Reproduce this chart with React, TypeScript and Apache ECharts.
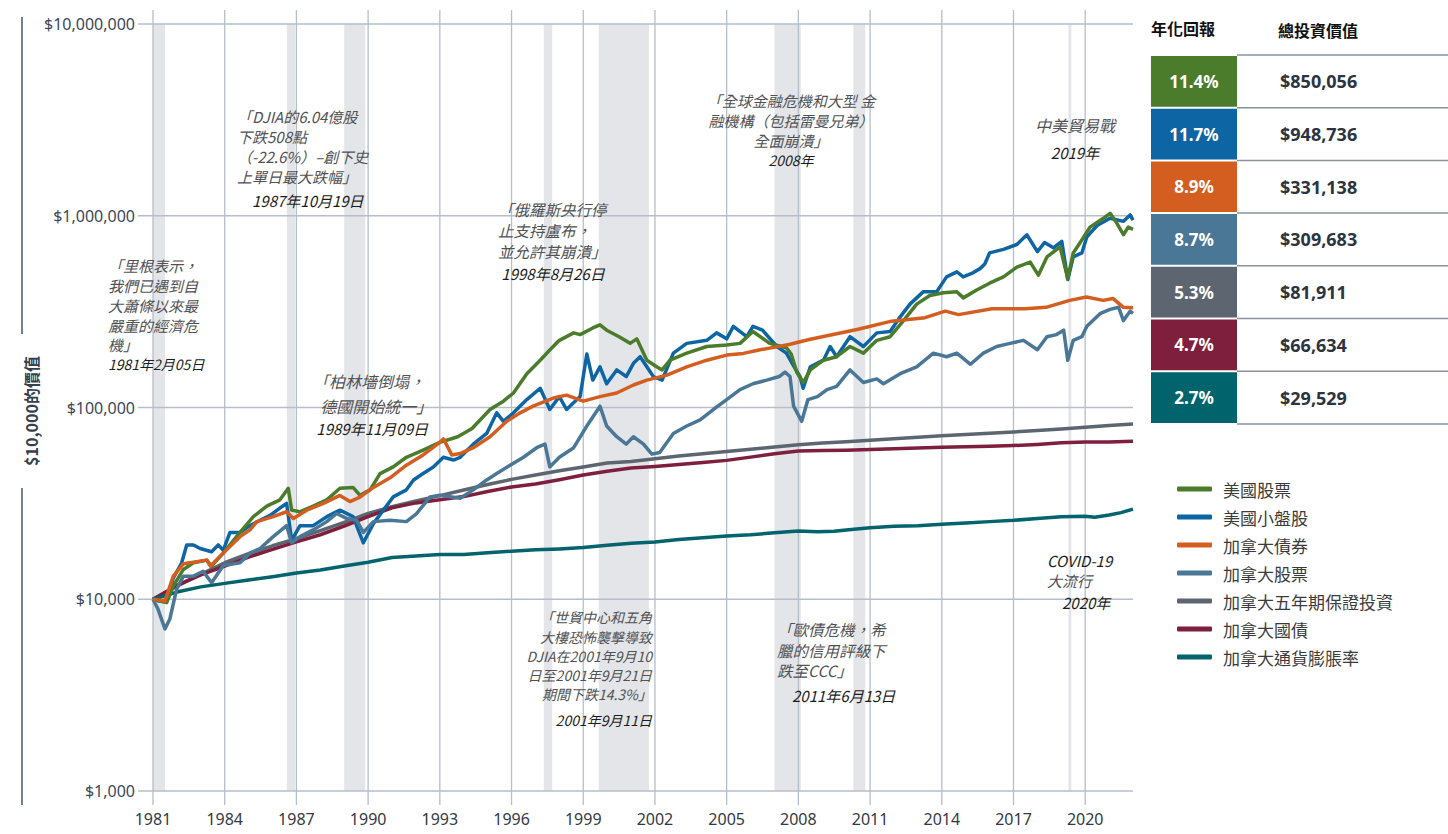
import React, { useEffect, useRef } from 'react';
import * as echarts from 'echarts';

// ---------- axis / layout data ----------
const AXIS_START = 1981;
const AXIS_END = 2022;
const xTickYears = [1981, 1984, 1987, 1990, 1993, 1996, 1999, 2002, 2005, 2008, 2011, 2014, 2017, 2020];
const yTickValues = [1000, 10000, 100000, 1000000, 10000000];
const recessionBands: [number, number][] = [
  [1981.0, 1981.5], [1986.6, 1986.95], [1989.0, 1989.88], [1997.35, 1997.7],
  [1999.65, 2001.75], [2007.0, 2008.1], [2010.3, 2010.8], [2019.3, 2019.42],
];

// ---------- series ----------
const seriesNames = ['美國股票', '美國小盤股', '加拿大債券', '加拿大股票', '加拿大五年期保證投資', '加拿大國債', '加拿大通貨膨脹率'];
const seriesColors = ['#4a7c2b', '#0e65a3', '#d35e1f', '#4b7797', '#5d6670', '#7e1f3d', '#01646d'];
const annualReturns = ['11.4%', '11.7%', '8.9%', '8.7%', '5.3%', '4.7%', '2.7%'];
const totalValues = ['$850,056', '$948,736', '$331,138', '$309,683', '$81,911', '$66,634', '$29,529'];

const usStocks: [number, number][] = [
  [1981.00, 10000], [1981.28, 9800], [1981.57, 9600], [1981.85, 11700], [1982.27, 14300], [1982.69, 15500],
  [1983.25, 16000], [1983.45, 14900], [1983.94, 17400], [1984.64, 22300], [1985.20, 26950], [1985.76, 30600],
  [1986.31, 33000], [1986.66, 37900], [1986.80, 29150], [1987.15, 28600], [1987.70, 30600], [1988.27, 33000],
  [1988.82, 37900], [1989.37, 38300], [1989.66, 34800], [1990.08, 37200], [1990.50, 45200], [1991.05, 49000],
  [1991.60, 55000], [1992.30, 60000], [1993.00, 65800], [1993.75, 70400], [1994.35, 77700], [1995.10, 97600],
  [1995.66, 107900], [1996.08, 119000], [1996.64, 150000], [1997.20, 176500], [1997.60, 199500], [1998.00, 224000],
  [1998.60, 245000], [1998.87, 240000], [1999.40, 260000], [1999.70, 270000], [1999.98, 253000], [2000.50, 234000],
  [2000.96, 216000], [2001.24, 228000], [2001.66, 176500], [2002.07, 163000], [2002.30, 157000], [2002.63, 176500],
  [2003.33, 192000], [2004.17, 208000], [2005.00, 212000], [2005.56, 216000], [2006.10, 249000], [2006.80, 216000],
  [2007.50, 205000], [2007.70, 190000], [2007.93, 153000], [2008.20, 135000], [2008.50, 157000], [2009.05, 176500],
  [2009.60, 184000], [2010.16, 208000], [2010.72, 192000], [2011.28, 224000], [2011.84, 234000], [2012.40, 284000],
  [2012.95, 346000], [2013.50, 384000], [2014.07, 397000], [2014.63, 402000], [2014.90, 373000], [2015.46, 410000],
  [2016.00, 445000], [2016.58, 480000], [2017.14, 540000], [2017.70, 573000], [2018.04, 490000], [2018.40, 610000],
  [2018.95, 688000], [2019.27, 470000], [2019.50, 640000], [2019.90, 761000], [2020.20, 872000], [2020.76, 970000],
  [2021.04, 1030000], [2021.32, 916000], [2021.60, 796000], [2021.80, 872000], [2022.00, 850056],
];

const usSmallCap: [number, number][] = [
  [1981.00, 10000], [1981.28, 9800], [1981.57, 9700], [1981.85, 12900], [1982.20, 15500], [1982.41, 19200],
  [1982.69, 19200], [1982.97, 18400], [1983.45, 17700], [1983.73, 19200], [1983.94, 18000], [1984.22, 22300],
  [1984.64, 22300], [1985.06, 24200], [1985.48, 25800], [1985.90, 27400], [1986.31, 29900], [1986.59, 31600],
  [1986.80, 20300], [1987.15, 24200], [1987.70, 24200], [1988.27, 26950], [1988.82, 29150], [1989.37, 26950],
  [1989.80, 19700], [1990.22, 24800], [1991.05, 34200], [1991.60, 37200], [1991.90, 41900], [1992.30, 45300],
  [1992.73, 49000], [1993.15, 55000], [1993.57, 53200], [1993.85, 55000], [1994.40, 64400], [1994.96, 73200],
  [1995.38, 93800], [1995.66, 84700], [1996.08, 93800], [1996.64, 110000], [1997.20, 126000], [1997.60, 97600],
  [1998.00, 114000], [1998.30, 97600], [1998.87, 114000], [1999.15, 190000], [1999.40, 139000], [1999.70, 163000],
  [1999.98, 133000], [2000.40, 157000], [2000.80, 145000], [2001.10, 170000], [2001.38, 184000], [2001.66, 163000],
  [2001.93, 145000], [2002.30, 139000], [2002.77, 192000], [2003.33, 216000], [2004.17, 224000], [2004.58, 245000],
  [2005.00, 228000], [2005.28, 265000], [2005.84, 234000], [2006.10, 265000], [2006.50, 253000], [2007.10, 208000],
  [2007.50, 192000], [2007.80, 165000], [2008.07, 145000], [2008.20, 126000], [2008.50, 163000], [2009.05, 176500],
  [2009.33, 208000], [2009.60, 184000], [2010.16, 234000], [2010.72, 208000], [2011.28, 245000], [2011.84, 249000],
  [2012.26, 297000], [2012.67, 346000], [2013.23, 402000], [2013.79, 402000], [2014.20, 480000], [2014.63, 510000],
  [2014.90, 480000], [2015.25, 500000], [2015.60, 530000], [2015.80, 560000], [2016.00, 640000], [2016.58, 668000],
  [2017.14, 708000], [2017.56, 796000], [2018.00, 650000], [2018.30, 725000], [2018.67, 680000], [2019.02, 735000],
  [2019.27, 465000], [2019.50, 610000], [2019.86, 640000], [2020.07, 777000], [2020.50, 890000], [2021.04, 970000],
  [2021.60, 935000], [2021.88, 1010000], [2022.00, 948736],
];

const canBonds: [number, number][] = [
  [1981.00, 10000], [1981.50, 9800], [1981.85, 13200], [1982.27, 15300], [1983.25, 16000], [1983.40, 14900],
  [1983.94, 17400], [1984.64, 21200], [1985.06, 23000], [1985.34, 25400], [1986.03, 26950], [1986.59, 28600],
  [1986.87, 26350], [1987.43, 29150], [1988.13, 31600], [1988.82, 34800], [1989.24, 32300], [1989.66, 34100],
  [1990.22, 38300], [1990.92, 43000], [1991.60, 50000], [1992.30, 56600], [1993.00, 65800], [1993.15, 68600],
  [1993.50, 56600], [1993.85, 57500], [1994.40, 61700], [1995.10, 70400], [1995.80, 84700], [1996.36, 93800],
  [1996.90, 101600], [1997.75, 112000], [1998.30, 116000], [1999.00, 107900], [1999.70, 114000], [2000.40, 119000],
  [2001.10, 131000], [2001.66, 139000], [2002.50, 147500], [2003.33, 163000], [2004.17, 176500], [2005.00, 187600],
  [2005.70, 191500], [2006.40, 200000], [2007.20, 208300], [2007.65, 213700], [2008.50, 227000], [2009.50, 241000],
  [2010.50, 256000], [2011.90, 282000], [2013.30, 294000], [2014.15, 318000], [2014.70, 305000], [2016.10, 327000],
  [2017.50, 327000], [2018.36, 333000], [2019.35, 362000], [2020.05, 377000], [2020.75, 362000], [2021.17, 370000],
  [2021.60, 333000], [2022.00, 331138],
];

const canStocks: [number, number][] = [
  [1981.00, 10000], [1981.20, 8940], [1981.50, 7000], [1981.70, 7860], [1981.99, 11300], [1982.27, 13200],
  [1982.69, 13200], [1983.10, 14000], [1983.45, 12200], [1983.94, 15000], [1984.64, 15500], [1985.06, 17400],
  [1985.48, 18400], [1986.03, 21200], [1986.59, 24200], [1986.80, 19700], [1987.15, 21200], [1987.70, 23000],
  [1988.27, 25400], [1988.68, 28000], [1989.10, 26400], [1989.52, 25800], [1989.80, 22300], [1990.22, 25400],
  [1990.92, 25800], [1991.60, 25400], [1992.03, 28000], [1992.59, 34200], [1993.00, 34900], [1993.43, 34200],
  [1993.85, 33600], [1994.40, 37200], [1994.96, 41900], [1995.38, 45300], [1995.94, 50000], [1996.50, 55000],
  [1997.05, 61700], [1997.40, 64400], [1997.60, 49000], [1998.00, 55000], [1998.60, 61700], [1999.15, 80100],
  [1999.70, 101600], [1999.98, 80100], [2000.40, 70400], [2000.80, 64400], [2001.10, 70400], [2001.52, 64400],
  [2001.87, 57100], [2002.20, 58300], [2002.77, 73200], [2003.33, 80100], [2003.89, 86200], [2004.44, 97600],
  [2005.00, 110000], [2005.56, 124000], [2006.10, 133000], [2006.68, 139000], [2007.20, 145000], [2007.44, 153000],
  [2007.65, 145000], [2007.80, 101600], [2008.14, 84700], [2008.40, 110000], [2008.80, 114000], [2009.20, 124000],
  [2009.60, 129000], [2010.16, 157000], [2010.72, 135000], [2011.28, 141000], [2011.56, 133000], [2012.26, 150000],
  [2012.95, 163000], [2013.65, 192000], [2014.20, 184000], [2014.63, 192000], [2015.20, 168000], [2015.74, 192000],
  [2016.30, 208000], [2016.86, 216000], [2017.42, 224000], [2018.00, 200000], [2018.40, 234000], [2018.80, 240000],
  [2019.10, 253000], [2019.27, 176500], [2019.50, 224000], [2019.86, 234000], [2020.07, 265000], [2020.64, 310000],
  [2021.04, 325000], [2021.40, 333000], [2021.60, 284000], [2021.88, 318000], [2022.00, 309683],
];

const canGic: [number, number][] = [
  [1981, 10000], [1982, 11700], [1983, 13500], [1984, 15500], [1985, 17300], [1986, 19000], [1987, 20700],
  [1988, 22800], [1989, 25200], [1990, 28000], [1991, 30400], [1992, 32600], [1993, 34700], [1994, 37100],
  [1995, 39700], [1996, 42200], [1997, 44500], [1998, 46800], [1999, 49000], [2000, 51300], [2001, 52300],
  [2002, 54000], [2003, 55800], [2004, 57400], [2005, 59000], [2006, 60500], [2007, 62200], [2008, 64000],
  [2009, 65200], [2010, 66300], [2011, 67500], [2012, 68800], [2013, 70000], [2014, 71200], [2015, 72300],
  [2016, 73400], [2017, 74500], [2018, 75800], [2019, 77300], [2020, 79000], [2021, 80500], [2022, 81911],
];

const canTbills: [number, number][] = [
  [1981, 10000], [1982, 11800], [1983, 13400], [1984, 14900], [1985, 16600], [1986, 18200], [1987, 19900],
  [1988, 21700], [1989, 24100], [1990, 27000], [1991, 30000], [1992, 31800], [1993, 33000], [1994, 34300],
  [1995, 36500], [1996, 38500], [1997, 39900], [1998, 42000], [1999, 44500], [2000, 46500], [2001, 48300],
  [2002, 49300], [2003, 50500], [2004, 51700], [2005, 53000], [2006, 55100], [2007, 57400], [2008, 59300],
  [2009, 59600], [2010, 59800], [2011, 60300], [2012, 60900], [2013, 61500], [2014, 62100], [2015, 62500],
  [2016, 62800], [2017, 63300], [2018, 64200], [2019, 65400], [2020, 66000], [2021, 66050], [2022, 66634],
];

const canInflation: [number, number][] = [
  [1981, 10000], [1982, 10900], [1983, 11600], [1984, 12100], [1985, 12600], [1986, 13100], [1987, 13700],
  [1988, 14200], [1989, 14900], [1990, 15600], [1991, 16500], [1992, 16800], [1993, 17100], [1994, 17100],
  [1995, 17500], [1996, 17800], [1997, 18100], [1998, 18300], [1999, 18600], [2000, 19100], [2001, 19600],
  [2002, 19900], [2003, 20500], [2004, 20900], [2005, 21400], [2006, 21700], [2007, 22200], [2008, 22700],
  [2008.8, 22500], [2009.5, 22600], [2010, 23000], [2011, 23600], [2012, 24000], [2013, 24200], [2014, 24600],
  [2015, 25000], [2016, 25400], [2017, 25800], [2018, 26400], [2019, 26900], [2020, 27100], [2020.4, 26800],
  [2021, 27500], [2021.5, 28300], [2022, 29529],
];

const seriesData = [usStocks, usSmallCap, canBonds, canStocks, canGic, canTbills, canInflation];
const seriesZ = [4, 3, 5, 3, 2, 2, 2];

// annotations: anchor x, first-line centre y, align, lines [text, kind (c = quote, d = date), fontSize, lineHeight]
type Line = [string, 'c' | 'd', number, number];
type Note = { x: number; y: number; align: string; lines: Line[] };
const notes: Note[] = [
  { x: 108, y: 265, align: 'left', lines: [
    ['「里根表示，', 'c', 15, 20], ['我們已遇到自', 'c', 15, 20], ['大蕭條以來最', 'c', 15, 20],
    ['嚴重的經濟危', 'c', 15, 20], ['機」', 'c', 15, 19], ['1981年2月05日', 'd', 14, 19]] },
  { x: 237, y: 116, align: 'left', lines: [
    ['「DJIA的6.04億股', 'c', 15, 20], ['下跌508點', 'c', 15, 20], ['（-22.6%）–創下史', 'c', 15, 20],
    ['上單日最大跌幅」', 'c', 15, 20], ['\u30001987年10月19日', 'd', 15, 28]] },
  { x: 313, y: 381, align: 'left', lines: [
    ['「柏林墻倒塌，', 'c', 16, 25], ['  德國開始統一」', 'c', 16, 25], [' 1989年11月09日', 'd', 15, 19]] },
  { x: 498, y: 209, align: 'left', lines: [
    ['「俄羅斯央行停', 'c', 15.5, 21], ['止支持盧布，', 'c', 15.5, 21], ['並允許其崩潰」', 'c', 15.5, 21],
    [' 1998年8月26日', 'd', 15, 23]] },
  { x: 791, y: 100, align: 'center', lines: [
    ['「全球金融危機和大型 金', 'c', 15, 20], ['融機構（包括雷曼兄弟）', 'c', 15, 20],
    ['全面崩潰」', 'c', 15, 20], ['2008年', 'd', 14, 19]] },
  { x: 1075, y: 125, align: 'center', lines: [['中美貿易戰', 'c', 16, 24], ['2019年', 'd', 15, 30]] },
  { x: 1047, y: 560, align: 'left', lines: [
    ['COVID-19', 'd', 15, 20], ['大流行', 'c', 15, 20], ['\u30002020年', 'd', 15, 24]] },
  { x: 652, y: 617, align: 'right', lines: [
    ['「世貿中心和五角', 'c', 14, 19.5], ['大樓恐怖襲擊導致', 'c', 14, 19.5], ['DJIA在2001年9月10', 'c', 14, 19.5],
    ['日至2001年9月21日', 'c', 14, 19], ['期間下跌14.3%」', 'c', 14, 19], ['2001年9月11日', 'd', 14, 33]] },
  { x: 777, y: 629, align: 'left', lines: [
    ['「歐債危機，希', 'c', 15.5, 20.5], ['臘的信用評級下', 'c', 15.5, 20.5], ['跌至CCC」', 'c', 15.5, 20.5],
    ['\u30002011年6月13日', 'd', 15, 30]] },
];

const CJK = "'Noto Sans CJK TC', 'Noto Sans', sans-serif";
const NUM = "'Noto Sans', 'Noto Sans CJK TC', sans-serif";

export default function App() {
  const ref = useRef<HTMLDivElement>(null);
  useEffect(() => {
    if (!ref.current) return;
    const chart = echarts.init(ref.current, null, { renderer: 'svg' });
    const toT = (d: [number, number][]) => d.map(([y, v]) => [y - AXIS_START, v]);
    const option: any = {
      animation: false,
      backgroundColor: '#ffffff',
      grid: { left: 153, right: 315, top: 24, bottom: 43, containLabel: false },
      xAxis: {
        type: 'value', min: 0, max: AXIS_END - AXIS_START, interval: 3,
        axisLine: { show: false }, axisTick: { show: false }, splitLine: { show: false },
        axisLabel: {
          margin: 20, fontSize: 16, color: '#333a44', fontFamily: NUM,
          formatter: (v: number) => (xTickYears.indexOf(AXIS_START + v) >= 0 ? String(AXIS_START + v) : ''),
        },
      },
      yAxis: {
        type: 'log', logBase: 10, min: yTickValues[0], max: yTickValues[yTickValues.length - 1],
        axisLine: { show: false }, axisTick: { show: false }, splitLine: { show: false },
        axisLabel: {
          margin: 18, fontSize: 16, color: '#3c4858', fontFamily: NUM,
          formatter: (v: number) => '$' + Math.round(v).toLocaleString('en-US'),
        },
      },
      legend: {
        orient: 'vertical', left: 1172, top: 474, itemWidth: 35, itemHeight: 5, itemGap: 8,
        icon: 'roundRect', data: seriesNames,
        textStyle: { fontSize: 17, color: '#3c3c3c', fontFamily: CJK, lineHeight: 20, padding: [0, 0, 0, 6] },
      },
      series: seriesNames.map((name, i) => ({
        name, type: 'line', data: toT(seriesData[i]), showSymbol: false, symbol: 'none',
        z: seriesZ[i], silent: true,
        lineStyle: { width: 3.5, color: seriesColors[i], join: 'round' },
        itemStyle: { color: seriesColors[i] },
      })),
    };
    chart.setOption(option);

    const px = (year: number, v: number) => chart.convertToPixel({ gridIndex: 0 }, [year - AXIS_START, v]) as number[];
    const top = px(AXIS_START, yTickValues[yTickValues.length - 1])[1];
    const bottom = px(AXIS_START, yTickValues[0])[1];
    const left = px(AXIS_START, 1000)[0];
    const right = px(AXIS_END, 1000)[0];
    const els: any[] = [];

    recessionBands.forEach(([a, b]) => {
      const x1 = px(a, 1000)[0];
      const x2 = px(b, 1000)[0];
      els.push({ type: 'rect', z: 0, silent: true, shape: { x: x1, y: top, width: x2 - x1, height: bottom - top }, style: { fill: '#e3e5e9' } });
    });
    xTickYears.forEach((yr) => {
      const x = px(yr, 1000)[0];
      els.push({ type: 'line', z: 1, silent: true, shape: { x1: x, y1: top - 14, x2: x, y2: bottom + 14 }, style: { stroke: '#b6bec9', lineWidth: 1.3 } });
    });
    yTickValues.forEach((v) => {
      const y = px(AXIS_START, v)[1];
      els.push({ type: 'line', z: 1, silent: true, shape: { x1: left - 15, y1: y, x2: right, y2: y }, style: { stroke: '#b6bec9', lineWidth: 1.3 } });
    });

    // y-axis title with rule lines
    els.push({ type: 'line', z: 1, silent: true, shape: { x1: 22, y1: 17, x2: 22, y2: 334 }, style: { stroke: '#4a5563', lineWidth: 1.5 } });
    els.push({ type: 'line', z: 1, silent: true, shape: { x1: 22, y1: 488, x2: 22, y2: 805 }, style: { stroke: '#4a5563', lineWidth: 1.5 } });
    els.push({
      type: 'text', z: 10, x: 31, y: 411, rotation: Math.PI / 2, silent: true,
      style: { text: '$10,000的價值', fill: '#34404e', fontSize: 16, fontWeight: 'bold', fontFamily: CJK, align: 'center', verticalAlign: 'middle', textAlign: 'center', textVerticalAlign: 'middle' },
    });

    // annotations as single rich-text blocks
    notes.forEach((n) => {
      const rich: any = {};
      const parts = n.lines.map(([t, kind, size, lh], i) => {
        rich['s' + i] = {
          fontSize: size, lineHeight: lh, fontStyle: 'italic', fontFamily: CJK,
          fill: kind === 'c' ? '#505256' : '#1c1c1c', color: kind === 'c' ? '#505256' : '#1c1c1c',
          align: n.align,
        };
        return '{s' + i + '|' + t + '}';
      });
      els.push({
        type: 'text', z: 10, x: n.x, y: n.y - n.lines[0][3] / 2, silent: true,
        style: {
          text: parts.join('\n'), rich, fontStyle: 'italic', fontFamily: CJK, fill: '#505256',
          align: n.align, verticalAlign: 'top', textAlign: n.align, textVerticalAlign: 'top',
        },
      });
    });

    // table
    els.push({ type: 'text', z: 10, x: 1183, y: 28, silent: true, style: { text: '年化回報', fill: '#111', fontSize: 16, fontWeight: 'bold', fontFamily: CJK, align: 'center', verticalAlign: 'middle', textAlign: 'center', textVerticalAlign: 'middle' } });
    els.push({ type: 'text', z: 10, x: 1318, y: 30, silent: true, style: { text: '總投資價值', fill: '#111', fontSize: 16, fontWeight: 'bold', fontFamily: CJK, align: 'center', verticalAlign: 'middle', textAlign: 'center', textVerticalAlign: 'middle' } });
    const rowH = 52.7;
    const rowTop0 = 55;
    annualReturns.forEach((r, i) => {
      const yt = rowTop0 + i * rowH;
      els.push({ type: 'rect', z: 5, silent: true, shape: { x: 1151, y: yt + 1, width: 86, height: rowH - 2 }, style: { fill: seriesColors[i] } });
      els.push({ type: 'line', z: 5, silent: true, shape: { x1: 1237, y1: yt, x2: 1448, y2: yt }, style: { stroke: '#8a929c', lineWidth: 1.5 } });
      els.push({ type: 'text', z: 10, x: 1194, y: yt + rowH / 2, silent: true, style: { text: r, fill: '#ffffff', fontSize: 17, fontWeight: 'bold', fontFamily: NUM, align: 'center', verticalAlign: 'middle', textAlign: 'center', textVerticalAlign: 'middle' } });
      els.push({ type: 'text', z: 10, x: 1280, y: yt + rowH / 2, silent: true, style: { text: totalValues[i], fill: '#2b3440', fontSize: 18, fontWeight: 'bold', fontFamily: NUM, align: 'left', verticalAlign: 'middle', textAlign: 'left', textVerticalAlign: 'middle' } });
    });
    const yEnd = rowTop0 + annualReturns.length * rowH;
    els.push({ type: 'line', z: 5, silent: true, shape: { x1: 1237, y1: yEnd, x2: 1448, y2: yEnd }, style: { stroke: '#8a929c', lineWidth: 1.5 } });

    chart.setOption({ graphic: { elements: els } });
    return () => chart.dispose();
  }, []);
  return <div ref={ref} style={{ position: 'fixed', left: 0, top: 0, width: 1448, height: 834 }} />;
}
